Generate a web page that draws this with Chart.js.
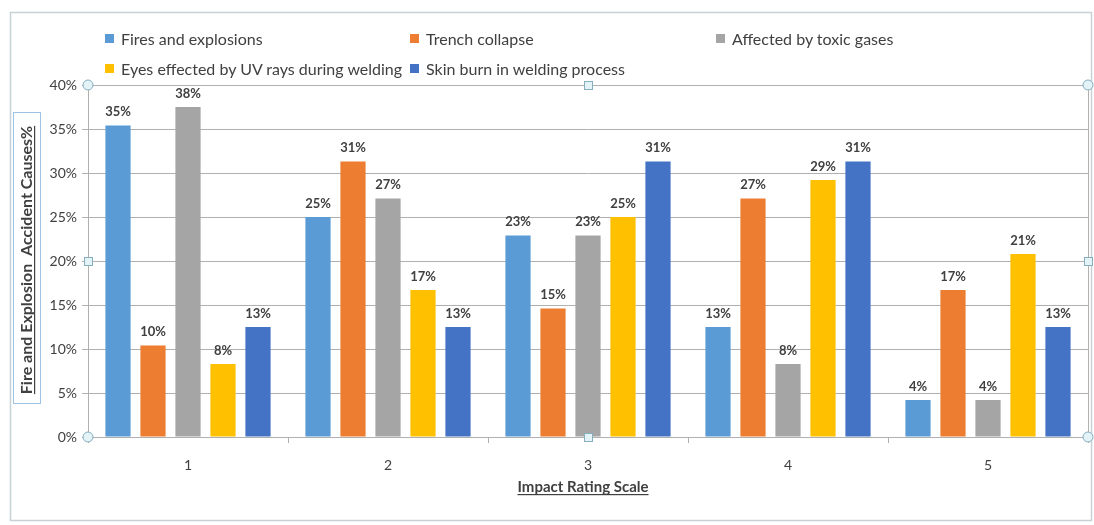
<!DOCTYPE html>
<html>
<head>
<meta charset="utf-8">
<script src="https://cdn.jsdelivr.net/npm/chart.js@4.4.1/dist/chart.umd.min.js"></script>
<style>
  html, body { margin: 0; padding: 0; background: #fff; }
  #wrap { position: relative; width: 1094px; height: 525px; }
  #legend { position: absolute; left: 0; top: 0; font-family: Lato, sans-serif; font-size: 16px; color: #404040; }
  .item { position: absolute; display: flex; align-items: center; white-space: nowrap; height: 20px; }
  .item span.box { display: inline-block; width: 9px; height: 9px; margin-right: 7px; }
</style>
</head>
<body>
<div id="wrap">
  <canvas id="c" width="1094" height="525"></canvas>
  <div id="legend"></div>
</div>
<script>
// data (percent of causes per impact rating)
const categories = ['1', '2', '3', '4', '5'];
const seriesNames = ['Fires and explosions', 'Trench collapse', 'Affected by toxic gases',
  'Eyes effected by UV rays during welding', 'Skin burn in welding process'];
const fires = [35.4, 25.0, 22.9, 12.5, 4.2];
const trench = [10.4, 31.3, 14.6, 27.1, 16.7];
const toxic = [37.5, 27.1, 22.9, 8.3, 4.2];
const uvEyes = [8.3, 16.7, 25.0, 29.2, 20.8];
const skinBurn = [12.5, 12.5, 31.3, 31.3, 12.5];
const seriesColors = ['#5B9BD5', '#ED7D31', '#A5A5A5', '#FFC000', '#4472C4'];
const yMax = 40, yStep = 5;
const xTitle = 'Impact Rating Scale';
const yTitle = 'Fire and Explosion  Accident Causes%';

const allSeries = [fires, trench, toxic, uvEyes, skinBurn];

// html legend laid out in columns like the original
const legendPos = [[105, 28], [410, 28], [716, 28], [105, 58], [410, 58]];
const legendEl = document.getElementById('legend');
seriesNames.forEach(function(name, i){
  const d = document.createElement('div');
  d.className = 'item';
  d.style.left = legendPos[i][0] + 'px';
  d.style.top = legendPos[i][1] + 'px';
  d.innerHTML = '<span class="box" style="background:' + seriesColors[i] + '"></span>' + name;
  legendEl.appendChild(d);
});

Chart.defaults.font.family = 'Lato, sans-serif';

const gridColor = '#b0b0b0';

const decor = {
  id: 'decor',
  afterDatasetsDraw(chart) {
    const ctx = chart.ctx;
    ctx.save();
    ctx.font = 'bold 13px Lato, sans-serif';
    ctx.fillStyle = '#404040';
    ctx.textAlign = 'center';
    ctx.textBaseline = 'bottom';
    chart.data.datasets.forEach(function(ds, i){
      chart.getDatasetMeta(i).data.forEach(function(bar, j){
        ctx.fillText(Math.round(ds.data[j]) + '%', bar.x, bar.y - 7);
      });
    });
    ctx.restore();
  },
  afterDraw(chart) {
    const ctx = chart.ctx;
    const a = chart.chartArea;
    ctx.save();
    // outer chart frame
    ctx.strokeStyle = '#c8d2d6';
    ctx.lineWidth = 1.5;
    ctx.strokeRect(10.5, 12.5, 1081, 508);
    // right edge of plot area
    ctx.strokeStyle = gridColor;
    ctx.lineWidth = 1;
    ctx.beginPath();
    ctx.moveTo(Math.round(a.right) + 0.5, a.top);
    ctx.lineTo(Math.round(a.right) + 0.5, a.bottom);
    ctx.stroke();

    // x axis title, bold and underlined
    ctx.fillStyle = '#404040';
    ctx.font = 'bold 15px Lato, sans-serif';
    ctx.textAlign = 'center';
    ctx.textBaseline = 'alphabetic';
    const cx = (a.left + a.right) / 2;
    ctx.fillText(xTitle, cx - 5, 492);
    let w = ctx.measureText(xTitle).width;
    ctx.fillRect(cx - 5 - w / 2, 494, w, 1.2);

    // y axis title in its selection box
    ctx.strokeStyle = '#9dc3e6';
    ctx.strokeRect(13.5, 112.5, 27, 291);
    ctx.translate(32, 260);
    ctx.rotate(-Math.PI / 2);
    ctx.font = 'bold 16px Lato, sans-serif';
    ctx.fillText(yTitle, 0, 0);
    w = ctx.measureText(yTitle).width;
    ctx.fillRect(-w / 2, 2, w, 1.2);
    ctx.setTransform(1, 0, 0, 1, 0, 0);

    // selection handles of the plot area
    const mx = (a.left + a.right) / 2, my = (a.top + a.bottom) / 2;
    ctx.fillStyle = '#e4f3f8';
    ctx.strokeStyle = '#86aebd';
    [[a.left, a.top], [a.right, a.top], [a.left, a.bottom], [a.right, a.bottom]].forEach(function(p){
      ctx.beginPath();
      ctx.arc(p[0], p[1], 5, 0, Math.PI * 2);
      ctx.fill();
      ctx.stroke();
    });
    [[mx, a.top], [a.left, my], [a.right, my], [mx, a.bottom]].forEach(function(p){
      ctx.fillRect(p[0] - 4, p[1] - 4, 8, 8);
      ctx.strokeRect(p[0] - 3.5, p[1] - 3.5, 8, 8);
    });
    ctx.restore();
  }
};

const ctx = document.getElementById('c').getContext('2d');
const chart = new Chart(ctx, {
  type: 'bar',
  data: {
    labels: categories,
    datasets: seriesNames.map(function(name, i){
      return {
        label: name,
        data: allSeries[i],
        backgroundColor: seriesColors[i],
        categoryPercentage: 0.875,
        barPercentage: 0.72
      };
    })
  },
  options: {
    responsive: false,
    animation: false,
    events: [],
    layout: { padding: { top: 85, right: 6, left: 0, bottom: 0 } },
    plugins: { legend: { display: false }, tooltip: { enabled: false } },
    scales: {
      x: {
        grid: { display: true, drawOnChartArea: false, offset: true, tickLength: 6, color: gridColor },
        border: { color: gridColor },
        ticks: { color: '#404040', font: { size: 14 }, padding: 14 },
        afterFit: function(s){ s.height = 88; }
      },
      y: {
        min: 0,
        max: yMax,
        ticks: { stepSize: yStep, color: '#404040', font: { size: 14 }, padding: 5,
          callback: function(v){ return v + '%'; } },
        grid: { color: gridColor, tickLength: 6 },
        border: { color: gridColor },
        afterFit: function(s){ s.width = 88; }
      }
    }
  },
  plugins: [decor]
});
</script>
</body>
</html>
